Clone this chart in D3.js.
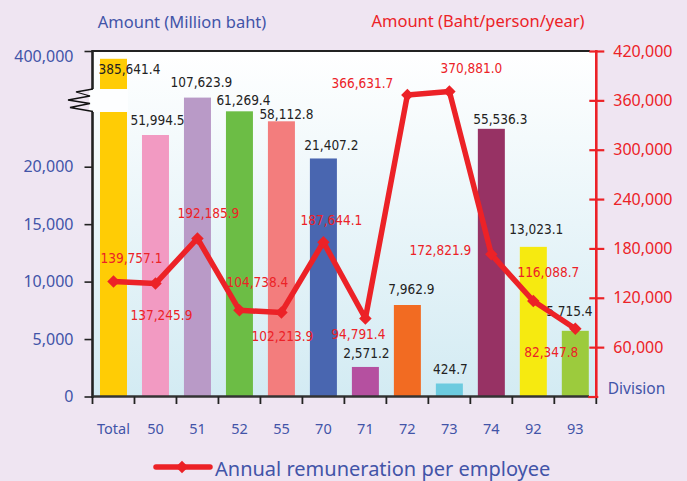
<!DOCTYPE html>
<html><head><meta charset="utf-8">
<script src="https://cdn.jsdelivr.net/npm/d3@7"></script>
<style>
body{margin:0;background:#efe5f2;}
svg{display:block}
</style>
</head><body>
<svg id="chart" width="687" height="481"></svg>
<script>
// ---- data ----
const categories = ["Total","50","51","52","55","70","71","72","73","74","92","93"];
const amountMillion = [385641.4, 51994.5, 107623.9, 61269.4, 58112.8, 21407.2, 2571.2, 7962.9, 424.7, 55536.3, 13023.1, 5715.4];
const remunerationPerPerson = [139757.1, 137245.9, 192185.9, 104738.4, 102213.9, 187644.1, 94791.4, 366631.7, 370881.0, 172821.9, 116088.7, 82347.8];
const leftTicks = [0, 5000, 10000, 15000, 20000, 400000];
const rightTicks = [0, 60000, 120000, 180000, 240000, 300000, 360000, 420000];
const barColors = ["#ffcc05","#f29ac2","#b99ac7","#6cbd45","#f37d7d","#4966b0","#b550a0","#f26b22","#6ccbdf","#973264","#f6ea10","#9ccb3d"];

// ---- label layout (offsets from mark) ----
const barLabelDx = [16, 2, 4, 4, 5, 8, 1, 4, 1, 9, 3, -6];
const barLabelDy = [10, -15, -16, -11, -7, -13, -14, -16, -15, -10, -18, -20];
const lineLabelDx = [18, 6, 11, 18, 1, 8, -7, -45, 22, -51, 15, -24];
const lineLabelDy = [-24, 31, -25, -28, 24, -22, 15, -12, -23, -4, -29, 23];

// ---- layout ----
const W = 687, H = 481;
const L = 92.5, R = 596.3, T = 51, B = 396.5;
const blue = "#4254a8", red = "#ec2227", dark = "#222";
const minBarPx = 13;

const svg = d3.select("#chart");

const x = d3.scaleBand().domain(categories).range([L, R]).paddingInner(0.357).paddingOuter(0.1785);
// broken / compressed left axis (as drawn in the original)
const yLeft = d3.scaleLinear()
  .domain([0, 20000, 22000, 52000, 56000, 62000, 110000, 330000, 400000])
  .range([B, 166.7, 155, 135, 128, 109, 97, 89, T]);
const yRight = d3.scaleLinear().domain([0, 420000]).range([B, T]);

// gradient
const defs = svg.append("defs");
const g = defs.append("linearGradient").attr("id","bg").attr("x1",0).attr("y1",0).attr("x2",0).attr("y2",1);
g.append("stop").attr("offset","0%").attr("stop-color","#ffffff");
g.append("stop").attr("offset","100%").attr("stop-color","#d3ebf3");

svg.append("rect").attr("x",L).attr("y",T).attr("width",R-L).attr("height",B-T).attr("fill","url(#bg)");

// bars
const numFont = "'DejaVu Sans Condensed','DejaVu Sans',sans-serif";
const txtFont = "'Noto Sans','Open Sans',sans-serif";
const fmt1 = d3.format(",.1f");

svg.append("g").selectAll("rect").data(amountMillion).join("rect")
  .attr("x",(d,i)=>x(categories[i]))
  .attr("width",x.bandwidth())
  .attr("y",d=>Math.min(yLeft(d), B-minBarPx))
  .attr("height",d=>B-Math.min(yLeft(d), B-minBarPx))
  .attr("fill",(d,i)=>barColors[i]);

// top border
svg.append("line").attr("x1",L).attr("x2",590).attr("y1",T).attr("y2",T).attr("stroke",dark).attr("stroke-width",2.2);

// left axis
const axL = svg.append("g").attr("transform",`translate(${L},0)`)
  .call(d3.axisLeft(yLeft).tickValues(leftTicks).tickSize(8).tickPadding(11).tickFormat(d3.format(",")));
axL.select(".domain").remove();
axL.selectAll(".tick line").attr("stroke",dark).attr("stroke-width",1.6);
axL.selectAll(".tick text").attr("fill",blue).style("font-family",txtFont).style("font-size","16px")
  .attr("dy",d=>d===400000?"0.68em":"0.32em");
svg.append("line").attr("x1",L).attr("x2",L).attr("y1",T-1).attr("y2",B+1.5).attr("stroke",dark).attr("stroke-width",2.6);

// bottom axis
svg.append("line").attr("x1",L).attr("x2",589).attr("y1",B).attr("y2",B).attr("stroke","#333").attr("stroke-width",2.6);
const edges = d3.range(categories.length+1).map(i=>L + (R-L)*i/categories.length);
svg.append("g").selectAll("line").data(edges).join("line")
  .attr("x1",d=>d).attr("x2",d=>d).attr("y1",B).attr("y2",B+7.5).attr("stroke",dark).attr("stroke-width",1.8);
const axB = svg.append("g").attr("transform",`translate(0,${B})`)
  .call(d3.axisBottom(x).tickSize(0).tickPadding(27));
axB.select(".domain").remove();
axB.selectAll(".tick text").attr("fill",blue).style("font-family",txtFont).style("font-size","14.5px");

// right axis
const axR = svg.append("g").attr("transform",`translate(${R},0)`)
  .call(d3.axisRight(yRight).tickValues(rightTicks).tickSize(8).tickPadding(9).tickFormat(d=>d===0?"":d3.format(",")(d)));
axR.select(".domain").remove();
axR.selectAll(".tick line").attr("x1",-7).attr("stroke",red).attr("stroke-width",2.2);
axR.selectAll(".tick").filter(d=>d===0).select("line").attr("x1",-8).attr("x2",2);
axR.selectAll(".tick text").attr("fill",red).style("font-family",txtFont).style("font-size","16px");
svg.append("line").attr("x1",R).attr("x2",R).attr("y1",T-1).attr("y2",B+1.5).attr("stroke",red).attr("stroke-width",2.6);

// axis break on the Total bar
svg.append("rect").attr("x",89).attr("y",89).attr("width",39).attr("height",23).attr("fill","#fdfeff");
svg.append("path").attr("d","M93,89 L76,92 L90,96 L68,100 L90,103.5 L70,107.5 L93,111.5")
  .attr("fill","none").attr("stroke","#111").attr("stroke-width",1.3);

// bar value labels
svg.append("g").selectAll("text").data(amountMillion).join("text")
  .attr("x",(d,i)=>x(categories[i])+x.bandwidth()/2+barLabelDx[i])
  .attr("y",(d,i)=>Math.min(yLeft(d), B-minBarPx)+barLabelDy[i])
  .attr("text-anchor","middle").attr("dominant-baseline","central")
  .attr("fill",dark).style("font-family",numFont).style("font-stretch","condensed").style("font-size","13.5px")
  .text(d=>fmt1(d));

// line
const cx = i => x(categories[i]) + x.bandwidth()/2;
const line = d3.line().x((d,i)=>cx(i)).y(d=>yRight(d));
svg.append("path").datum(remunerationPerPerson).attr("d",line)
  .attr("fill","none").attr("stroke",red).attr("stroke-width",5.5).attr("stroke-linejoin","round");
const marker = d3.symbol(d3.symbolSquare, 78);
svg.append("g").selectAll("path").data(remunerationPerPerson).join("path")
  .attr("d",marker).attr("fill",red)
  .attr("transform",(d,i)=>`translate(${cx(i)},${yRight(d)}) rotate(45)`);

// line value labels
svg.append("g").selectAll("text").data(remunerationPerPerson).join("text")
  .attr("x",(d,i)=>cx(i)+lineLabelDx[i])
  .attr("y",(d,i)=>yRight(d)+lineLabelDy[i])
  .attr("text-anchor","middle").attr("dominant-baseline","central")
  .attr("fill",red).style("font-family",numFont).style("font-stretch","condensed").style("font-size","13.5px")
  .text(d=>fmt1(d));

// titles
svg.append("text").attr("x",182).attr("y",21).attr("text-anchor","middle").attr("dominant-baseline","central")
  .attr("fill",blue).style("font-family",txtFont).style("font-size","16.5px").text("Amount (Million baht)");
svg.append("text").attr("x",478).attr("y",20).attr("text-anchor","middle").attr("dominant-baseline","central")
  .attr("fill",red).style("font-family",txtFont).style("font-size","16.5px").text("Amount (Baht/person/year)");
svg.append("text").attr("x",636.5).attr("y",388).attr("text-anchor","middle").attr("dominant-baseline","central")
  .attr("fill",blue).style("font-family",txtFont).style("font-size","15.5px").text("Division");

// legend
svg.append("line").attr("x1",156).attr("x2",210).attr("y1",467).attr("y2",467).attr("stroke",red).attr("stroke-width",5.5).attr("stroke-linecap","round");
svg.append("path").attr("d",marker).attr("fill",red).attr("transform","translate(182,467) rotate(45)");
svg.append("text").attr("x",215).attr("y",476).attr("fill",blue).style("font-family",txtFont).style("font-size","20px")
  .text("Annual remuneration per employee");
</script>
</body></html>
